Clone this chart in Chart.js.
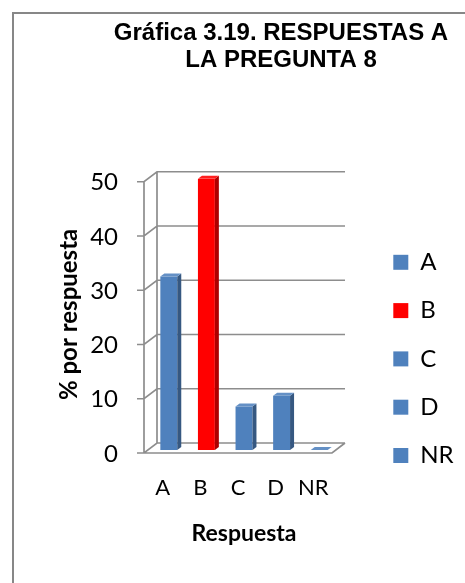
<!DOCTYPE html>
<html>
<head>
<meta charset="utf-8">
<title>Gráfica 3.19</title>
<script src="https://cdn.jsdelivr.net/npm/chart.js@4.4.1/dist/chart.umd.min.js"></script>
<style>
  html, body { margin: 0; padding: 0; background: #fff; }
  #wrap { position: relative; width: 465px; height: 583px; overflow: hidden; }
  #frame { position: absolute; left: 12px; top: 12px; width: 460px; height: 580px;
           border-left: 2px solid #878787; border-top: 2px solid #878787; }
  #PreguntaChart { position: absolute; left: 0; top: 0; }
</style>
</head>
<body>
<div id="wrap">
  <div id="frame"></div>
  <canvas id="PreguntaChart" width="465" height="583"></canvas>
</div>
<script>
//
//
// Datos - Pregunta 8
var respuestas = ['A', 'B', 'C', 'D', 'NR'];
var porcentajes = [32, 50, 8, 10, 0];
var ticks_y = [0, 10, 20, 30, 40, 50];
var titulo = ['Gráfica 3.19. RESPUESTAS A', 'LA PREGUNTA 8'];
var titulo_y = '% por respuesta';
var titulo_x = 'Respuesta';

//
// Colores
var color_barra = '#4F81BD';
var color_destacado = '#FF0000';
var destacada = 'B';
var bar_colors = respuestas.map(function(r){
  return r === destacada ? color_destacado : color_barra;
});

var texto = "Lato, 'Noto Sans', sans-serif";
var depth_x = 4, depth_y = 3;

function mix(hex, target, f){
  var n = parseInt(hex.slice(1), 16);
  var c = [(n >> 16) & 255, (n >> 8) & 255, n & 255].map(function(v){
    return Math.round(v + (target - v) * f);
  });
  return 'rgb(' + c.join(',') + ')';
}

//
//
// Pared y piso del grafico 3D
var pared = {
  id: 'pared',
  beforeDatasetsDraw: function(chart){
    var ctx = chart.ctx;
    var a = chart.chartArea;
    var y = chart.scales.y;
    var fx = a.left - 6, bx = a.left + 7;
    var frx = a.right - 6, brx = a.right + 7;
    var fy = 3, by = -7;
    var top = y.getPixelForValue(ticks_y[ticks_y.length - 1]);
    var base = y.getPixelForValue(ticks_y[0]);

    ctx.save();
    ctx.strokeStyle = '#8d8d8d';
    ctx.lineWidth = 1.7;
    ctx.beginPath();
    ticks_y.forEach(function(v){
      var py = y.getPixelForValue(v);
      ctx.moveTo(fx - 7, py + fy);
      ctx.lineTo(fx, py + fy);
      ctx.lineTo(bx, py + by);
      ctx.lineTo(brx, py + by);
    });
    ctx.moveTo(fx, top + fy); ctx.lineTo(fx, base + fy);
    ctx.moveTo(bx, top + by); ctx.lineTo(bx, base + by);
    ctx.moveTo(fx, base + fy); ctx.lineTo(frx, base + fy); ctx.lineTo(brx, base + by);
    ctx.stroke();
    ctx.restore();
  }
};

//
//
// Caras lateral y superior de las barras
var barras3d = {
  id: 'barras3d',
  afterDatasetsDraw: function(chart){
    var ctx = chart.ctx;
    var meta = chart.getDatasetMeta(0);
    meta.data.forEach(function(bar, i){
      var p = bar.getProps(['x', 'y', 'base', 'width'], true);
      var l = p.x - p.width / 2, r = p.x + p.width / 2;
      var color = bar_colors[i];
      ctx.save();
      ctx.fillStyle = mix(color, 0, 0.32);
      ctx.beginPath();
      ctx.moveTo(r, p.y);
      ctx.lineTo(r + depth_x, p.y - depth_y);
      ctx.lineTo(r + depth_x, p.base - depth_y);
      ctx.lineTo(r, p.base);
      ctx.closePath();
      ctx.fill();
      ctx.fillStyle = mix(color, 255, 0.12);
      ctx.beginPath();
      ctx.moveTo(l, p.y);
      ctx.lineTo(l + depth_x, p.y - depth_y);
      ctx.lineTo(r + depth_x, p.y - depth_y);
      ctx.lineTo(r, p.y);
      ctx.closePath();
      ctx.fill();
      ctx.restore();
    });
  }
};

//
//
// Ubicacion del titulo y la leyenda
var ajuste = {
  id: 'ajuste',
  afterLayout: function(chart){
    var t = chart.titleBlock;
    t.left = 97; t.right = chart.width; t.width = t.right - t.left;
    var lg = chart.legend;
    lg.left = 369; lg.right = chart.width; lg.width = lg.right - lg.left;
    lg.top = 226; lg.bottom = chart.height; lg.height = lg.bottom - lg.top;
  }
};

var pregunta_ctx = document.getElementById('PreguntaChart').getContext('2d');

new Chart(pregunta_ctx, {
  type: 'bar',
  data: {
    labels: respuestas,
    datasets: [{
      data: porcentajes,
      backgroundColor: bar_colors,
      borderWidth: 0,
      barPercentage: 0.45,
      categoryPercentage: 1
    }]
  },
  options: {
    responsive: false,
    animation: false,
    layout: { padding: { top: 12, left: 55, right: 47, bottom: 35 } },
    plugins: {
      title: {
        display: true,
        text: titulo,
        color: '#000',
        font: { family: "'Liberation Sans', Arial, sans-serif", size: 24, weight: 'bold', lineHeight: 1.12 },
        padding: { top: 8, bottom: 105 }
      },
      legend: {
        position: 'right',
        align: 'start',
        maxWidth: 80,
        labels: {
          color: '#000',
          boxWidth: 15,
          boxHeight: 15,
          padding: 24.3,
          font: { family: texto, size: 24 },
          generateLabels: function(){
            return respuestas.map(function(r, i){
              return { text: r, fillStyle: bar_colors[i], strokeStyle: bar_colors[i], lineWidth: 0, hidden: false, index: i };
            });
          }
        }
      },
      tooltip: { enabled: false }
    },
    scales: {
      x: {
        grid: { display: false, drawTicks: false },
        border: { display: false },
        ticks: { color: '#000', padding: 25, labelOffset: -6, font: { family: texto, size: 22 } },
        title: { display: true, text: titulo_x, color: '#000', padding: { top: 0, bottom: 1 },
                 font: { family: texto, size: 23, weight: 'bold' } },
        afterFit: function(scale){ scale.height = 98; }
      },
      y: {
        min: ticks_y[0],
        max: ticks_y[ticks_y.length - 1],
        grid: { display: false, drawTicks: false },
        border: { display: false },
        ticks: { color: '#000', stepSize: ticks_y[1] - ticks_y[0], padding: 32, labelOffset: 4,
                 font: { family: texto, size: 24 } },
        title: { display: true, text: titulo_y, color: '#000', padding: { top: 0, bottom: 0 },
                 font: { family: texto, size: 24, weight: 'bold' } },
        afterFit: function(scale){ scale.width = 95; }
      }
    }
  },
  plugins: [pared, barras3d, ajuste]
});
</script>
</body>
</html>
